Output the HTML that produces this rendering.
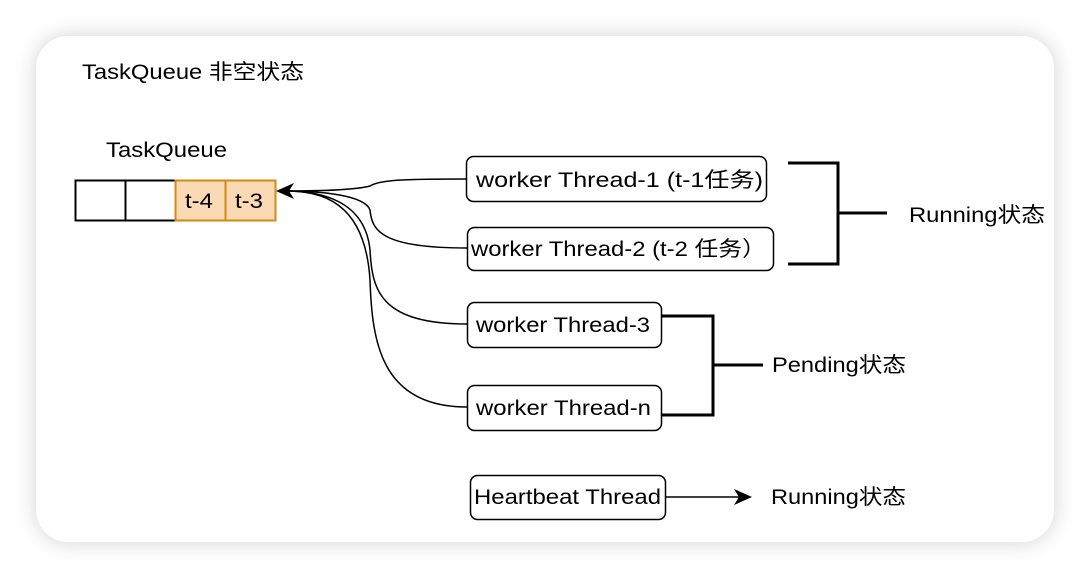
<!DOCTYPE html>
<html><head><meta charset="utf-8"><style>
body{margin:0;width:1090px;height:578px;background:#fff;overflow:hidden;font-family:"Liberation Sans","Noto Sans CJK SC",sans-serif;}
.card{position:absolute;left:36px;top:36px;width:1018px;height:506px;border-radius:32px;background:#fff;box-shadow:0 0 22px rgba(0,0,0,0.18);}
svg{position:absolute;left:0;top:0}
text{font-family:"Liberation Sans","Noto Sans CJK SC",sans-serif;fill:#000}
</style></head><body>
<div class="card"></div>
<svg width="1090" height="578" viewBox="0 0 1090 578">
<g font-size="21" lengthAdjust="spacingAndGlyphs">
<text x="82" y="79" textLength="222" lengthAdjust="spacingAndGlyphs">TaskQueue 非空状态</text>
<text x="106" y="157" textLength="121" lengthAdjust="spacingAndGlyphs">TaskQueue</text>
</g>
<rect x="75.5" y="180.5" width="50" height="40" fill="#fff" stroke="#000" stroke-width="2"/>
<rect x="125.5" y="180.5" width="50" height="40" fill="#fff" stroke="#000" stroke-width="2"/>
<rect x="175.5" y="180.5" width="50" height="40" fill="#fad9b5" stroke="#d08c14" stroke-width="2"/>
<rect x="225.5" y="180.5" width="50" height="40" fill="#fad9b5" stroke="#d08c14" stroke-width="2"/>
<text x="185" y="208" font-size="21" textLength="28" lengthAdjust="spacingAndGlyphs">t-4</text>
<text x="235" y="208" font-size="21" textLength="28" lengthAdjust="spacingAndGlyphs">t-3</text>
<g fill="none" stroke="#000" stroke-width="1.5">
<path d="M466,179 C400,179 380,180 370,186 C355,190 320,191 285,191"/>
<path d="M467,248 C380,248 372,230 370,210 C365,195 320,191 285,191"/>
<path d="M467,324 C380,324 372,290 370,250 C365,200 320,191 285,191"/>
<path d="M467,407 C380,407 372,340 370,280 C365,200 320,191 285,191"/>
<path d="M665,497 L740,497"/>
</g>
<path d="M276,191 L294,183 L289,191 L294,199 Z" fill="#000"/>
<path d="M752,497 L734,489 L739,497 L734,505 Z" fill="#000"/>
<g fill="#fff" stroke="#000" stroke-width="1.5">
<rect x="466.5" y="156.5" width="300" height="45" rx="7"/>
<rect x="467.5" y="227.5" width="306" height="43" rx="7"/>
<rect x="467.5" y="302.5" width="194" height="45" rx="7"/>
<rect x="467.5" y="385.5" width="194" height="45" rx="7"/>
<rect x="470.5" y="475.5" width="195" height="44" rx="7"/>
</g>
<g font-size="21">
<text x="476" y="187" textLength="287" lengthAdjust="spacingAndGlyphs">worker Thread-1 (t-1任务)</text>
<text x="471" y="256" textLength="295" lengthAdjust="spacingAndGlyphs">worker Thread-2 (t-2 任务）</text>
<text x="476" y="332" textLength="174" lengthAdjust="spacingAndGlyphs">worker Thread-3</text>
<text x="476" y="415" textLength="175" lengthAdjust="spacingAndGlyphs">worker Thread-n</text>
<text x="474" y="504" textLength="187" lengthAdjust="spacingAndGlyphs">Heartbeat Thread</text>
<text x="909" y="222" textLength="136" lengthAdjust="spacingAndGlyphs">Running状态</text>
<text x="772" y="372" textLength="134" lengthAdjust="spacingAndGlyphs">Pending状态</text>
<text x="771" y="504" textLength="135" lengthAdjust="spacingAndGlyphs">Running状态</text>
</g>
<g fill="none" stroke="#000" stroke-width="3">
<path d="M788,163 H838 V264 H788"/>
<path d="M838,213 H887"/>
<path d="M661,316 H713 V415 H661"/>
<path d="M713,365 H763"/>
</g>
</svg>
</body></html>
